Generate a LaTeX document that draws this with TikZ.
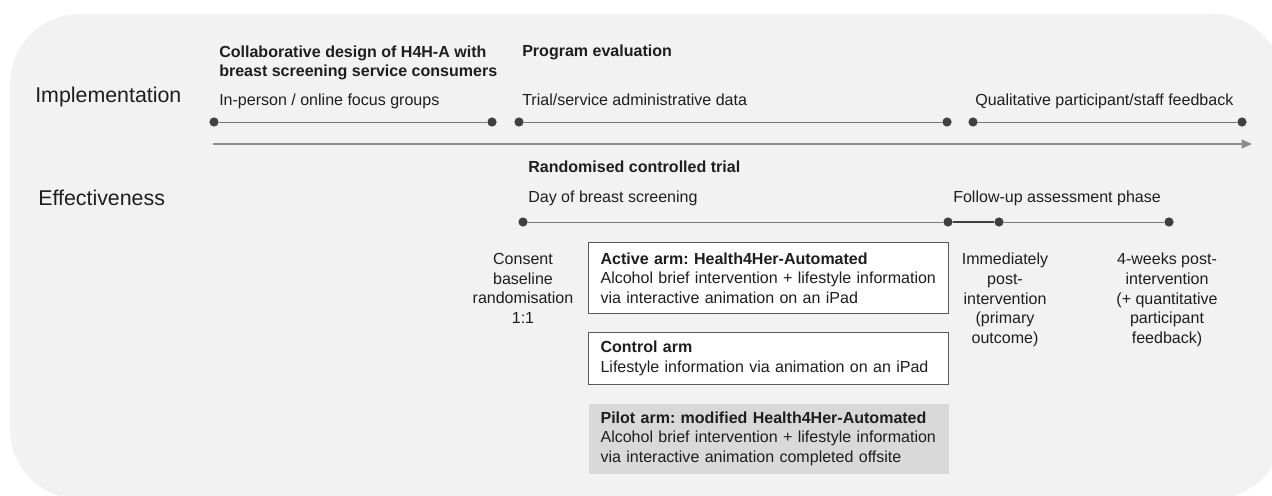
\documentclass[tikz,border=0pt]{standalone}
\usepackage{fontspec}
\setmainfont{Liberation Sans}
\usetikzlibrary{arrows.meta, backgrounds}
\frenchspacing
\definecolor{panelfill}{HTML}{F2F2F2}
\definecolor{darkline}{HTML}{1E1E1E}
\definecolor{dotcol}{HTML}{404040}
\definecolor{spancol}{HTML}{7A7A7A}
\definecolor{axiscol}{HTML}{8C8C8C}
\definecolor{armborder}{HTML}{5A5A5A}
\definecolor{pilotfill}{HTML}{D9D9D9}
\tikzset{
  txt/.style={inner sep=0pt, font=\fontsize{11.4}{14}\selectfont, text=darkline},
  head/.style={txt, font=\fontsize{11.4}{14}\selectfont\bfseries},
  rowlabel/.style={inner sep=0pt, font=\fontsize{15.2}{18}\selectfont, text=darkline, anchor=base west},
  stamp/.style={txt, align=center, anchor=north},
  arm/.style={txt, rectangle, anchor=north west, draw=armborder, line width=0.8pt, fill=white,
              text width=8.4cm, inner xsep=0.3cm, inner ysep=0pt, align=left},
  pilot/.style={arm, draw=none, fill=pilotfill},
  dot/.style={circle, fill=dotcol, inner sep=0pt, minimum size=0.23cm},
  span/.style={draw=spancol, line width=0.7pt},
  keyspan/.style={draw=dotcol, line width=1.2pt},
  timeaxis/.style={-{Triangle[length=2.6mm, width=2.2mm]}, draw=axiscol, line width=1.1pt},
}
\begin{document}
\begin{tikzpicture}

\useasboundingbox (0,0) rectangle (31.8,12.375);

% ===== Panel background =====
\begin{scope}[on background layer]
  \fill[panelfill, rounded corners=1.75cm] (0.25,-0.1) rectangle (32.075,12.025);
\end{scope}

% ===== Row labels =====
\node[rowlabel] (implabel) at (0.875,9.8)  {Implementation};
\node[rowlabel] (efflabel) at (0.95,7.225) {Effectiveness};

% ===== Implementation =====
\node[head, anchor=north west, align=left] (collab) at (5.475,11.24)
  {Collaborative design of H4H-A with\\breast screening service consumers};
\node[head, anchor=base west] (progeval) at (13.05,10.95) {Program evaluation};
\node[txt, anchor=base west] (focus) at (5.475,9.725) {In-person / online focus groups};
\node[txt, anchor=base west] (admin) at (13.05,9.725) {Trial/service administrative data};
\node[txt, anchor=base west] (qual)  at (24.375,9.725) {Qualitative participant/staff feedback};

\node[dot] (i1a) at (5.35,9.325) {};
\node[dot] (i1b) at (12.3,9.325) {};
\node[dot] (i2a) at (12.975,9.325) {};
\node[dot] (i2b) at (23.675,9.325) {};
\node[dot] (i3a) at (24.325,9.325) {};
\node[dot] (i3b) at (31.05,9.325) {};

% ===== Time axis =====
\coordinate (axisstart) at (5.325,8.775);
\coordinate (axisend)   at (31.3,8.775);

% ===== Effectiveness =====
\node[head, anchor=base west] (rct) at (13.2,8.05) {Randomised controlled trial};
\node[txt, anchor=base west] (dayof)  at (13.2,7.3) {Day of breast screening};
\node[txt, anchor=base west] (follow) at (23.825,7.3) {Follow-up assessment phase};

\node[dot] (e1) at (13.075,6.825) {};
\node[dot] (e2) at (23.7,6.825) {};
\node[dot] (e3) at (24.975,6.825) {};
\node[dot] (e4) at (29.225,6.825) {};

\node[stamp] (consent) at (13.075,6.05) {Consent\\baseline\\randomisation\\1:1};
\node[stamp] (postnow) at (25.125,6.05) {Immediately\\post-\\intervention\\(primary\\outcome)};
\node[stamp] (post4wk) at (29.175,6.05) {4-weeks post-\\intervention\\(+ quantitative\\participant\\feedback)};

\node[arm, minimum height=1.775cm] (active) at (14.7,6.325)
  {\textbf{Active arm: Health4Her-Automated}\\Alcohol brief intervention + lifestyle information\\via interactive animation on an iPad};
\node[arm, minimum height=1.3cm] (control) at (14.7,4.075)
  {\textbf{Control arm}\\Lifestyle information via animation on an iPad};
\node[pilot, minimum height=1.75cm] (pilotarm) at (14.7,2.3)
  {\textbf{Pilot arm: modified Health4Her-Automated}\\Alcohol brief intervention + lifestyle information\\via interactive animation completed offsite};

% ===== Spans =====
\draw[span] (i1a) -- (i1b);
\draw[span] (i2a) -- (i2b);
\draw[span] (i3a) -- (i3b);
\draw[timeaxis] (axisstart) -- (axisend);
\draw[span] (e1) -- (e2);
\draw[keyspan] (e2) -- (e3);
\draw[span] (e3) -- (e4);

\end{tikzpicture}
\end{document}
